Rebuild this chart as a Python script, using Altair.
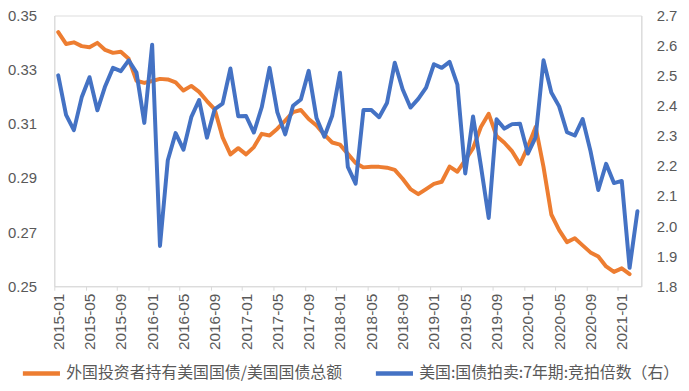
import altair as alt
import pandas as pd

# Month categories 2015-01 .. 2021-03
months = [f"{y}-{m:02d}" for y in range(2015, 2022) for m in range(1, 13)][:75]
tick_months = months[::4]

name_share = "外国投资者持有美国国债/美国国债总额"
name_btc = "美国:国债拍卖:7年期:竞拍倍数（右）"

# Foreign holdings share of US Treasuries (left axis), 2015-01 .. 2021-02
foreign_share = [
    0.3439, 0.3395, 0.3401, 0.3387, 0.3383, 0.3399, 0.3373, 0.3362, 0.3366, 0.3340,
    0.3259, 0.3251, 0.3258, 0.3266, 0.3264, 0.3253, 0.3223, 0.3240, 0.3218, 0.3184,
    0.3153, 0.3050, 0.2987, 0.3010, 0.2987, 0.3014, 0.3063, 0.3057, 0.3082, 0.3112,
    0.3143, 0.3151, 0.3118, 0.3094, 0.3060, 0.3031, 0.3023, 0.2989, 0.2955, 0.2939,
    0.2941, 0.2941, 0.2938, 0.2930, 0.2897, 0.2859, 0.2840, 0.2859, 0.2878, 0.2886,
    0.2942, 0.2923, 0.2966, 0.3010, 0.3088, 0.3137, 0.3055, 0.3030, 0.2998, 0.2951,
    0.3015, 0.3088, 0.2941, 0.2765, 0.2707, 0.2663, 0.2677, 0.2651, 0.2625, 0.2610,
    0.2573, 0.2553, 0.2566, 0.2545,
]

# 7-year auction bid-to-cover ratio (right axis), 2015-01 .. 2021-03
bid_to_cover = [
    2.501, 2.370, 2.319, 2.428, 2.495, 2.385, 2.465, 2.526, 2.515, 2.551,
    2.510, 2.343, 2.603, 1.934, 2.219, 2.309, 2.254, 2.362, 2.419, 2.294,
    2.389, 2.407, 2.524, 2.365, 2.366, 2.311, 2.395, 2.526, 2.378, 2.305,
    2.400, 2.421, 2.516, 2.359, 2.297, 2.367, 2.510, 2.197, 2.141, 2.386,
    2.386, 2.362, 2.409, 2.543, 2.455, 2.394, 2.423, 2.460, 2.538, 2.526,
    2.546, 2.470, 2.175, 2.364, 2.200, 2.027, 2.355, 2.324, 2.339, 2.340,
    2.241, 2.296, 2.551, 2.444, 2.398, 2.312, 2.301, 2.356, 2.250, 2.120,
    2.207, 2.143, 2.150, 1.861, 2.049,
]

left_ticks = [0.25, 0.27, 0.29, 0.31, 0.33, 0.35]
right_ticks = [1.8, 1.9, 2.0, 2.1, 2.2, 2.3, 2.4, 2.5, 2.6, 2.7]

df_left = pd.DataFrame({"month": months[:len(foreign_share)], "value": foreign_share, "series": name_share})
df_right = pd.DataFrame({"month": months[:len(bid_to_cover)], "value": bid_to_cover, "series": name_btc})

GREY = "#595959"
LINE_GREY = "#D9D9D9"
NUM_FONT = "Liberation Sans"
CJK_FONT = "Noto Sans CJK SC"
HALF_BAND = 592 / 75 / 2

x_enc = alt.X(
    "month:O",
    sort=months,
    scale=alt.Scale(type="band", domain=months, paddingInner=0, paddingOuter=0),
    axis=alt.Axis(
        values=tick_months, labelAngle=270, tickOffset=-HALF_BAND, labelOffset=HALF_BAND,
        title=None, grid=False, domainColor=LINE_GREY, tickColor=LINE_GREY, tickSize=4,
        labelPadding=3, labelFont=NUM_FONT, labelFontSize=15.5, labelColor=GREY,
    ),
)

color_enc = alt.Color(
    "series:N",
    scale=alt.Scale(domain=[name_share, name_btc], range=["#ED7D31", "#4472C4"]),
    legend=alt.Legend(
        orient="none", legendX=-34, legendY=340, direction="horizontal", title=None,
        symbolType="stroke", symbolSize=1400, symbolStrokeWidth=4.5,
        labelFont=CJK_FONT, labelFontSize=16, labelColor=GREY, labelLimit=0,
        columnPadding=24, labelOffset=4, padding=0,
    ),
)

left = alt.Chart(df_left).mark_line(strokeWidth=4, strokeJoin="round", strokeCap="round").encode(
    x=x_enc,
    y=alt.Y(
        "value:Q",
        scale=alt.Scale(domain=[0.25, 0.35], nice=False, zero=False),
        axis=alt.Axis(
            orient="left", values=left_ticks, format=".2f", title=None, grid=False, ticks=False,
            domainColor=LINE_GREY, labelPadding=18, labelFont=NUM_FONT, labelFontSize=15, labelColor=GREY,
        ),
    ),
    color=color_enc,
)

right = alt.Chart(df_right).mark_line(strokeWidth=4, strokeJoin="round", strokeCap="round").encode(
    x=x_enc,
    y=alt.Y(
        "value:Q",
        scale=alt.Scale(domain=[1.8, 2.7], nice=False, zero=False),
        axis=alt.Axis(
            orient="right", values=right_ticks, format=".1f", title=None, grid=False, ticks=False,
            domainColor=LINE_GREY, labelPadding=15, labelFont=NUM_FONT, labelFontSize=15, labelColor=GREY,
        ),
    ),
    color=color_enc,
)

chart = (
    alt.layer(left, right)
    .resolve_scale(y="independent")
    .properties(
        width=592, height=273,
        autosize=alt.AutoSizeParams(type="none"),
        padding={"left": 46.7, "top": 6, "right": 40, "bottom": 96},
    )
    .configure_view(stroke=None)
    .configure(background="white")
)

chart.save("out.html", embed_options={"renderer": "svg", "actions": False})
